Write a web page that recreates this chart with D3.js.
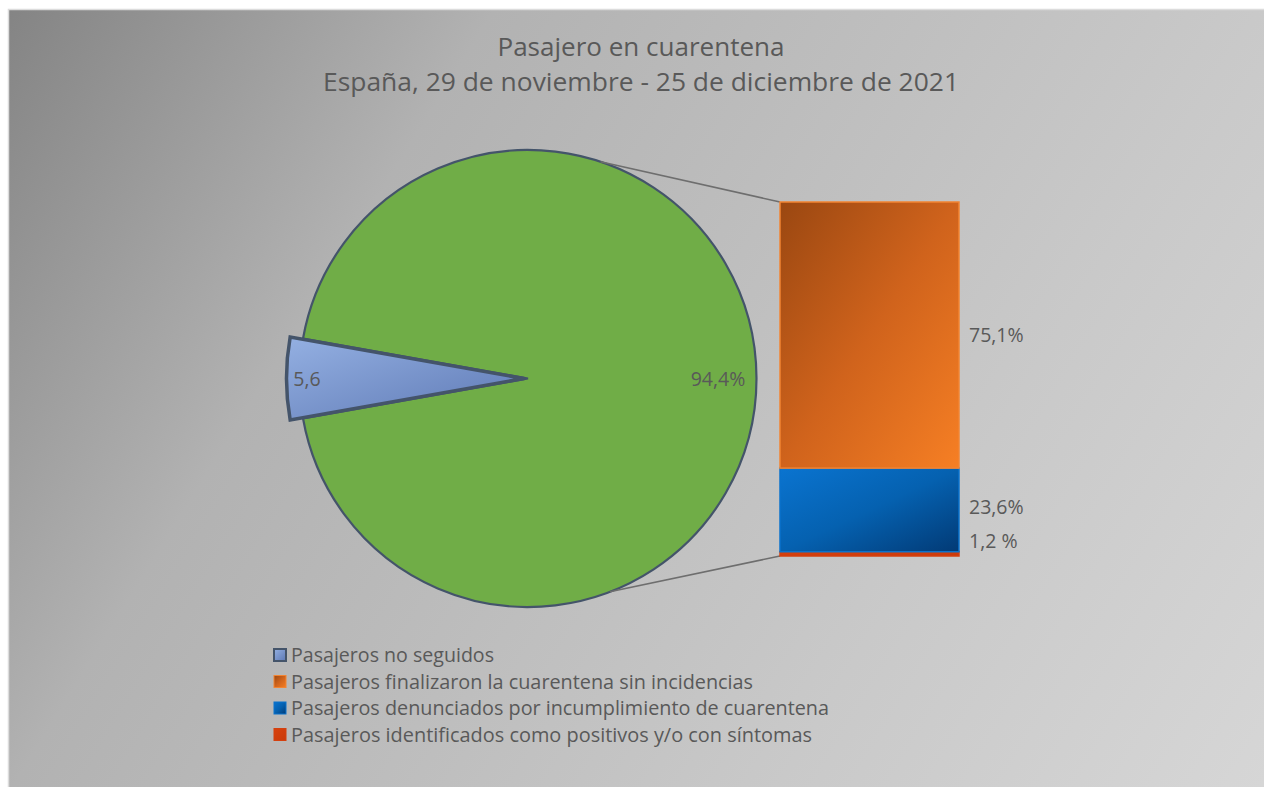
<!DOCTYPE html>
<html><head><meta charset="utf-8">
<script src="https://cdn.jsdelivr.net/npm/d3@7"></script>
<style>
html,body{margin:0;padding:0;background:#fff;overflow:hidden;}
svg{display:block;}
text{font-family:"Open Sans","Noto Sans",sans-serif;fill:#595959;}
</style></head>
<body>
<svg id="chart" width="1264" height="787"></svg>
<script>
// ---- data ----
const titleLines = ["Pasajero en cuarentena", "España, 29 de noviembre - 25 de diciembre de 2021"];
const pieCategories = ["Pasajeros no seguidos", "Otros"];
const pieValues = [5.6, 94.4];
const pieLabels = ["5,6", "94,4%"];
const barCategories = ["Pasajeros identificados como positivos y/o con síntomas",
                       "Pasajeros denunciados por incumplimiento de cuarentena",
                       "Pasajeros finalizaron la cuarentena sin incidencias"];
const barValues = [1.2, 23.6, 75.1];
const barLabels = ["1,2 %", "23,6%", "75,1%"];
const legendItems = ["Pasajeros no seguidos",
                     "Pasajeros finalizaron la cuarentena sin incidencias",
                     "Pasajeros denunciados por incumplimiento de cuarentena",
                     "Pasajeros identificados como positivos y/o con síntomas"];

const svg = d3.select("#chart");
const W = 1264, H = 787;
const defs = svg.append("defs");

function lin(id, x1, y1, x2, y2, stops, units) {
  const g = defs.append("linearGradient").attr("id", id)
    .attr("x1", x1).attr("y1", y1).attr("x2", x2).attr("y2", y2);
  if (units) g.attr("gradientUnits", units);
  stops.forEach(s => g.append("stop").attr("offset", s[0]).attr("stop-color", s[1]));
}
lin("bg", 8, 9, W, H, [[0, "#848484"], [0.28, "#b2b2b2"], [0.72, "#c9c9c9"], [1, "#d6d6d6"]], "userSpaceOnUse");
lin("gBlueSlice", "0%", "0%", "100%", "100%", [[0, "#94b0e2"], [1, "#5d78b4"]]);
lin("gOrange", "0%", "0%", "100%", "100%", [[0, "#9a4711"], [0.5, "#d0631c"], [1, "#f67f24"]]);
lin("gBlue", "0%", "0%", "100%", "100%", [[0, "#0a74d0"], [0.5, "#0561b0"], [1, "#023a75"]]);
lin("gRed", "0%", "0%", "100%", "100%", [[0, "#d8420e"], [1, "#c93a0a"]]);

// background
svg.append("rect").attr("x", 8.5).attr("y", 9.5).attr("width", W).attr("height", H)
  .attr("fill", "url(#bg)").attr("stroke", "#dcdcdc").attr("stroke-width", 1.5);

// title
const titleSize = [25, 25], titleBase = [56, 91], titleLen = [287, 636];
titleLines.forEach((t, i) => {
  svg.append("text").attr("x", 641).attr("y", titleBase[i]).attr("text-anchor", "middle")
    .attr("font-size", titleSize[i]).attr("textLength", titleLen[i])
    .attr("lengthAdjust", "spacingAndGlyphs").text(t);
});

// ---- pie ----
const cx = 528, cy = 378.5, R = 228.5;
const half = pieValues[0] / d3.sum(pieValues) * Math.PI;
const pie = d3.pie().sort(null).value(d => d)
  .startAngle(1.5 * Math.PI - half).endAngle(1.5 * Math.PI - half + 2 * Math.PI);
const arcs = pie(pieValues);
const arcMain = d3.arc().innerRadius(0).outerRadius(R);
const arcExpl = d3.arc().innerRadius(0).outerRadius(R + 9);
const pieG = svg.append("g").attr("transform", `translate(${cx},${cy})`);

// connector lines (from pie edge to bar corners)
const yScale = d3.scaleLinear().domain([0, d3.sum(barValues)]).range([556, 202]);
const barX = 780, barW = 179;
const connAngles = [-71.5, 69].map(a => a * Math.PI / 180);
const barCorners = [yScale(d3.sum(barValues)), yScale(0)];
connAngles.forEach((a, i) => {
  svg.append("line")
    .attr("x1", cx + R * Math.cos(a)).attr("y1", cy + R * Math.sin(a))
    .attr("x2", barX).attr("y2", barCorners[i])
    .attr("stroke", "#6e6e6e").attr("stroke-width", 1.6);
});

// green slice
pieG.append("path").attr("d", arcMain(arcs[1]))
  .attr("fill", "#70ad47").attr("stroke", "#44546a").attr("stroke-width", 2.2);
// exploded blue slice
const off = 4;
const mid = (arcs[0].startAngle + arcs[0].endAngle) / 2;
pieG.append("path").attr("d", arcExpl(arcs[0]))
  .attr("transform", `translate(${off * Math.sin(mid)},${-off * Math.cos(mid)})`)
  .attr("fill", "url(#gBlueSlice)").attr("stroke", "#44546a").attr("stroke-width", 3.5)
  .attr("stroke-linejoin", "miter");

// pie labels
arcs.forEach((a, i) => {
  const m = i === 0 ? mid : 0.5 * Math.PI;
  const rr = i === 0 ? 221 : 190;
  svg.append("text")
    .attr("x", cx + rr * Math.sin(m)).attr("y", cy - rr * Math.cos(m) + 7)
    .attr("text-anchor", "middle").attr("font-size", 19.5)
    .text(pieLabels[i]);
});

// ---- bar ----
const stack = [];
let acc = 0;
barValues.forEach((v, i) => { stack.push({v, y0: acc, y1: acc + v, i}); acc += v; });
const fills = ["url(#gRed)", "url(#gBlue)", "url(#gOrange)"];
const strokes = ["#d4400f", "#0a72cc", "#f28432"];
svg.append("g").selectAll("rect").data(stack).join("rect")
  .attr("x", barX).attr("width", barW)
  .attr("y", d => yScale(d.y1)).attr("height", d => yScale(d.y0) - yScale(d.y1))
  .attr("fill", (d, i) => fills[i]).attr("stroke", (d, i) => strokes[i]).attr("stroke-width", 1.5);

// bar labels
const labelYs = [541, 507, 335];
stack.forEach((d, i) => {
  svg.append("text").attr("x", 969).attr("y", labelYs[i] + 7)
    .attr("font-size", 19.5).text(barLabels[i]);
});

// ---- legend ----
const legFills = ["url(#gBlueSlice)", "url(#gOrange)", "url(#gBlue)", "url(#gRed)"];
const legStrokes = ["#44546a", "#f28432", "#0a72cc", "#d4400f"];
const legLens = [203, 462, 538, 521];
const lg = svg.append("g");
legendItems.forEach((t, i) => {
  const y = 655 + i * 26.5;
  lg.append("rect").attr("x", 274).attr("y", y - 6).attr("width", 12).attr("height", 12)
    .attr("fill", legFills[i]).attr("stroke", legStrokes[i]).attr("stroke-width", i === 0 ? 2 : 1);
  lg.append("text").attr("x", 291).attr("y", y + 7).attr("font-size", 20.5)
    .attr("textLength", legLens[i]).attr("lengthAdjust", "spacingAndGlyphs").text(t);
});
</script>
</body></html>
